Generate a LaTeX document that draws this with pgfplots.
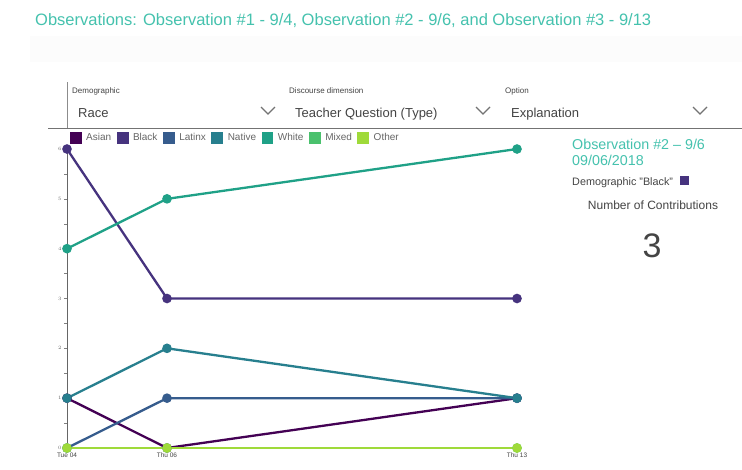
\documentclass[border=0pt]{standalone}
\usepackage{pgfplots}
\pgfplotsset{compat=1.18}
\usepackage{fontspec}
\setmainfont{Liberation Sans}
\newfontfamily\cond{Liberation Sans}
\definecolor{cAsian}{HTML}{440154}
\definecolor{cBlack}{HTML}{46337E}
\definecolor{cLatinx}{HTML}{365C8D}
\definecolor{cNative}{HTML}{277F8E}
\definecolor{cWhite}{HTML}{1FA187}
\definecolor{cMixed}{HTML}{4AC16D}
\definecolor{cOther}{HTML}{9FDA3A}
\definecolor{titleteal}{HTML}{45C2AE}
\definecolor{txt}{HTML}{444444}
\definecolor{ltxt}{HTML}{666666}
\begin{document}
\begin{tikzpicture}
\path[use as bounding box, fill=white] (0pt,0pt) rectangle (742pt,-469pt);
\fill[black!1] (30pt,-36pt) rectangle (742pt,-62pt);
% title
\node[anchor=base west, inner sep=0pt, text=titleteal, font=\cond\fontsize{16.5}{16.5}\selectfont] at (35pt,-25pt) {Observations: Observation \#1 - 9/4, Observation \#2 - 9/6, and Observation \#3 - 9/13};
% dropdown area
\draw[black!45, line width=0.8pt] (67pt,-82pt) -- (67pt,-128pt);
\draw[black!55, line width=1pt] (48pt,-128pt) -- (742pt,-128pt);
\node[anchor=base west, inner sep=0pt, text=txt, font=\fontsize{8}{8}\selectfont] at (72pt,-93pt) {Demographic};
\node[anchor=base west, inner sep=0pt, text=txt, font=\fontsize{13}{13}\selectfont] at (78pt,-117pt) {Race};
\draw[black!55, line width=1.3pt] (261pt,-107pt) -- (268pt,-114pt) -- (275pt,-107pt);
\node[anchor=base west, inner sep=0pt, text=txt, font=\fontsize{8}{8}\selectfont] at (289pt,-93pt) {Discourse dimension};
\node[anchor=base west, inner sep=0pt, text=txt, font=\fontsize{13}{13}\selectfont] at (295pt,-117pt) {Teacher Question (Type)};
\draw[black!55, line width=1.3pt] (476pt,-107pt) -- (483pt,-114pt) -- (490pt,-107pt);
\node[anchor=base west, inner sep=0pt, text=txt, font=\fontsize{8}{8}\selectfont] at (505pt,-93pt) {Option};
\node[anchor=base west, inner sep=0pt, text=txt, font=\fontsize{13}{13}\selectfont] at (511pt,-117pt) {Explanation};
\draw[black!55, line width=1.3pt] (693pt,-107pt) -- (700pt,-114pt) -- (707pt,-107pt);
% right panel
\node[anchor=base west, inner sep=0pt, text=titleteal, font=\cond\fontsize{14.3}{14.3}\selectfont] at (572pt,-149pt) {Observation \#2 – 9/6};
\node[anchor=base west, inner sep=0pt, text=titleteal, font=\cond\fontsize{14.3}{14.3}\selectfont] at (572pt,-165pt) {09/06/2018};
\node[anchor=base west, inner sep=0pt, text=txt, font=\fontsize{10.8}{10.8}\selectfont] at (572pt,-185pt) {Demographic "Black"};
\fill[cBlack] (680pt,-176pt) rectangle (689pt,-185pt);
\node[anchor=base, inner sep=0pt, text=txt, font=\fontsize{12}{12}\selectfont] at (653pt,-209pt) {Number of Contributions};
\node[anchor=base, inner sep=0pt, text=txt, font=\fontsize{34}{34}\selectfont] at (652pt,-257pt) {3};
\begin{axis}[
  scale only axis, width=450pt, height=299pt,
  at={(67pt,-448pt)}, anchor=south west,
  xmin=4, xmax=13, ymin=0, ymax=6,
  clip=false,
  axis y line=left, axis x line*=bottom,
  axis line style={-, draw=black!60, line width=0.8pt},
  x axis line style={draw=none},
  xtick={4,6,13}, xticklabels={Tue 04, Thu 06, Thu 13},
  ytick={0,...,6}, minor y tick num=1,
  tick align=outside, major tick length=3pt, minor tick length=3pt,
  xtick style={draw=none},
  ytick style={draw=black!50, line width=0.5pt},
  minor tick style={draw=black!50, line width=0.5pt},
  ticklabel style={font=\fontsize{5.5}{5.5}\selectfont, text=ltxt},
  yticklabel style={xshift=1pt},
  xticklabel style={yshift=2pt, font=\fontsize{6.5}{6.5}\selectfont, text=txt},
  every axis plot/.append style={line width=2.3pt, mark=*, mark size=3.6pt},
  legend columns=7,
  legend style={at={(0.006,1.015)}, anchor=south west, draw=none, fill=none,
    inner sep=0pt, font=\fontsize{10}{10}\selectfont, text=ltxt,
    /tikz/every odd column/.append style={column sep=2.5pt},
    /tikz/every even column/.append style={column sep=3.5pt}},
  legend image code/.code={\fill[#1] (0pt,-4.5pt) rectangle (9.5pt,5pt);},
]
\addplot[color=cAsian] coordinates {(4,1) (6,0) (13,1)};
\addlegendentry{Asian}
\addplot[color=cBlack] coordinates {(4,6) (6,3) (13,3)};
\addlegendentry{Black}
\addplot[color=cLatinx] coordinates {(4,0) (6,1) (13,1)};
\addlegendentry{Latinx}
\addplot[color=cNative] coordinates {(4,1) (6,2) (13,1)};
\addlegendentry{Native}
\addplot[color=cWhite] coordinates {(4,4) (6,5) (13,6)};
\addlegendentry{White}
\addplot[color=cMixed] coordinates {(4,0) (6,0) (13,0)};
\addlegendentry{Mixed}
\addplot[color=cOther] coordinates {(4,0) (6,0) (13,0)};
\addlegendentry{Other}
\end{axis}
\end{tikzpicture}
\end{document}
